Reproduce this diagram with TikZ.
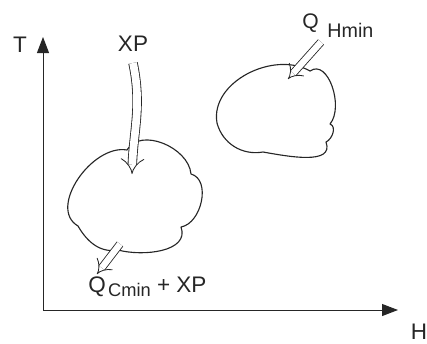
\documentclass[tikz,border=0pt]{standalone}
\usepackage{fontspec}
\setmainfont{Liberation Sans}
\usetikzlibrary{arrows.meta}
\tikzset{
  axisline/.style={-{Triangle[length=4mm,width=3mm]},line width=0.7pt,draw=black!85},
  cloudline/.style={line width=0.8pt,draw=black!85,line join=round},
  heatflow/.style={double,double distance=4.5pt,line width=0.6pt,draw=black!85,-{Implies}},
  biglabel/.style={inner sep=0pt,font=\fontsize{16}{18}\selectfont,text=black!85}
}
\begin{document}
\begin{tikzpicture}[x=0.025cm,y=-0.025cm]
\useasboundingbox (0,0) rectangle (427,343);
% axes
\coordinate (origin) at (43,310);
\coordinate (tEnd) at (43,37);
\coordinate (hEnd) at (398,310);
\draw[axisline] (origin) -- (tEnd);
\draw[axisline] (origin) -- (hEnd);
\node[biglabel] (tlabel) at (20,45) {T};
\node[biglabel] (hlabel) at (419,332) {H};
% cold cloud
\draw[cloudline] (78,226) to[out=150,in=170] (127,150) to[out=60,in=95] (191,174)
  to[out=-15,in=10] (181,227) to[out=-70,in=-15] (118,250) to[out=190,in=-60] (78,226) -- cycle;
% hot cloud
\draw[cloudline] (217,123) to[out=100,in=150] (310,71) to[out=35,in=50] (330,124)
  to[out=-20,in=25] (326,142) to[out=-70,in=-10] (263,152) to[out=190,in=-75] (217,123) -- cycle;
% XP in and out
\node[biglabel] (xp) at (133,44) {XP};
\coordinate (xpStart) at (133,63);
\coordinate (xpEnd) at (132,174);
\draw[heatflow,double distance=5.5pt] (xpStart) to[out=-78,in=88] (xpEnd);
% hot utility
\node[biglabel,anchor=base west] (qhmin) at (302,28) {\fontsize{15}{17}\selectfont Q\hspace{2.2mm}\raisebox{-6.5pt}{\fontsize{14}{16}\selectfont Hmin}};
\coordinate (qhStart) at (321,42);
\coordinate (qhEnd) at (288,79);
\draw[heatflow] (qhStart) -- (qhEnd);
% cold utility
\node[biglabel,anchor=base west] (qcmin) at (88,292) {Q\hspace{0.6mm}\raisebox{-3pt}{\fontsize{13}{15}\selectfont Cmin} + XP};
\coordinate (qcStart) at (120,244);
\coordinate (qcEnd) at (97,274);
\draw[heatflow] (qcStart) -- (qcEnd);
\end{tikzpicture}
\end{document}
